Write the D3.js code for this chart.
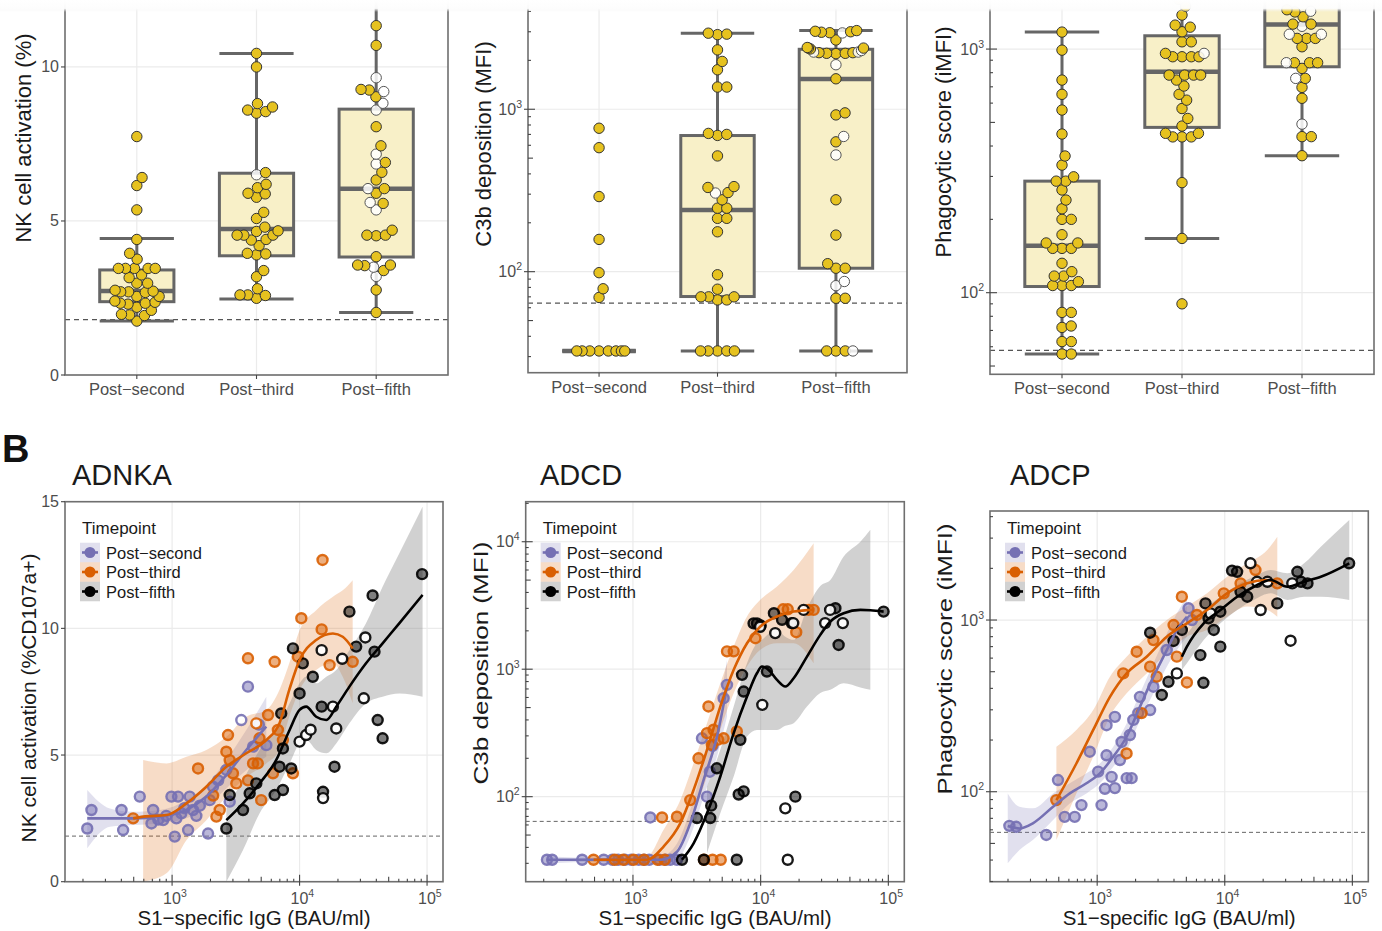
<!DOCTYPE html>
<html>
<head>
<meta charset="utf-8">
<script src="https://cdn.jsdelivr.net/npm/d3@7"></script>
<style>
  body { margin: 0; background: #fff; }
</style>
</head>
<body>
<script>
// ---------- data: panel A (box + swarm) ----------
const timepoints = ["Post\u2212second", "Post\u2212third", "Post\u2212fifth"];

const nkSecond = [7.74, 6.41, 6.15, 5.36, 4.40, 3.95, 3.76, 3.46, 3.46, 3.46, 3.46, 3.46, 3.25, 3.16, 2.98, 2.98, 2.75, 2.72, 2.7, 2.7, 2.68, 2.55, 2.55, 2.4, 2.36, 2.33, 2.33, 2.3, 2.2, 2.1, 1.97, 1.95, 1.93, 1.75];
const nkSecondOpen = [];
const nkThird = [10.44, 10.0, 8.81, 8.7, 8.55, 8.5, 8.6, 6.57, 6.19, 6.08, 5.9, 5.88, 5.77, 5.28, 5.08, 4.8, 4.68, 4.66, 4.54, 4.54, 4.54, 4.4, 4.38, 4.2, 3.95, 3.93, 3.9, 3.39, 3.19, 2.8, 2.6, 2.58, 2.6, 2.49];
const nkThirdOpen = [6.5];
const nkFifth = [12.6, 11.34, 10.7, 9.27, 9.25, 9.03, 8.06, 7.44, 6.9, 6.58, 6.33, 6.05, 5.9, 5.57, 4.7, 4.54, 4.52, 4.54, 3.84, 3.57, 3.57, 3.55, 3.39, 2.76, 2.03];
const nkFifthOpen = [9.65, 9.2, 8.82, 8.6, 7.17, 6.85, 6.05, 5.6, 5.36, 3.5, 3.2];
// [lower whisker, Q1, median, Q3, upper whisker]
const nkBox = [[1.75, 2.38, 2.73, 3.41, 4.43], [2.47, 3.87, 4.74, 6.55, 10.44], [2.03, 3.83, 6.05, 8.63, 12.6]];

const c3bSecond = [764, 580, 290, 158, 98.6, 78.5, 69.4, 32.5, 32.5, 32.5, 32.5, 32.5, 32.5, 32.5, 32.5];
const c3bSecondOpen = [];
const c3bThird = [2940, 2900, 2880, 2320, 1970, 1750, 1370, 1370, 710, 690, 700, 516, 334, 330, 307, 277, 246, 246, 213, 213, 176, 95.7, 78, 70, 70, 70, 67, 67, 32.5, 32.5, 32.5, 32.5, 32.5];
const c3bThirdOpen = [305];
const c3bFifth = [3050, 3000, 2980, 2960, 3020, 2670, 2380, 2400, 2350, 2380, 2210, 2230, 2200, 2230, 2210, 1540, 923, 950, 630, 277, 168, 112, 105, 105, 68.6, 68.6, 32.5, 32.5, 32.5];
const c3bFifthOpen = [2950, 2300, 2250, 2250, 1880, 680, 523, 87, 82, 32.5];
const c3bBox = [[32.5, 32.5, 32.5, 32.5, 32.5], [32.5, 70.3, 240, 689, 2940], [32.5, 105, 1538, 2340, 3050]];

const phagoSecond = [1174, 990, 746, 652, 562, 448, 364, 334, 299, 287, 287, 264, 240, 221, 200, 200, 173, 160, 160, 152, 152, 152, 132, 122, 117, 117, 111, 107, 107, 107, 83, 83, 73, 72, 63, 63, 56, 56];
const phagoSecondOpen = [];
const phagoThird = [2600, 1600, 1500, 1379, 1254, 1230, 1178, 1071, 1071, 960, 930, 930, 930, 930, 782, 782, 782, 782, 746, 705, 652, 617, 570, 519, 483, 451, 451, 436, 436, 436, 283, 167, 90];
const phagoThirdOpen = [960];
const phagoFifth = [2600, 1700, 1450, 1420, 1357, 1266, 1266, 1106, 1106, 1106, 1022, 879, 879, 879, 833, 758, 696, 628, 437, 437, 365];
const phagoFifthOpen = [1430, 1240, 1150, 1150, 879, 758, 492];
const phagoBox = [[56, 106, 156, 287, 1174], [167, 477, 807, 1134, 2600], [365, 846, 1262, 1700, 2600]];

// ---------- data: panel B (IgG vs function) ----------
// points: [IgG (BAU/ml), response]
const adnkaSecond = [[216,2.1],[233,2.83],[401,2.83],[413,2.04],[558,3.36],[689,2.3],[710,2.83],[780,2.45],[850,2.43],[900,2.6],[988,3.36],[1049,1.78],[1080,2.5],[1114,3.36],[1183,2.7],[1250,2.9],[1335,2.04],[1375,3.36],[1460,2.83],[1550,2.6],[1650,3.0],[1915,1.9],[1973,3.22],[2094,3.75],[2300,4.0],[2664,4.41],[2830,3.16],[3937,7.7],[4316,5.33],[4800,6.2],[5484,5.39]];
const adnkaSecondOpen = [[3490,6.38]];
const adnkaThird = [[495,2.5],[1598,4.47],[2100,3.4],[2225,2.57],[2364,2.83],[2664,5.13],[2746,5.79],[2830,4.8],[3002,4.28],[3190,3.88],[3937,8.82],[3937,4.0],[4316,4.67],[4700,4.67],[4850,5.66],[5000,3.22],[5660,6.58],[6187,4.28],[6375,8.68],[6760,5.99],[7400,5.59],[8870,4.28],[9700,8.88],[10320,10.4],[14900,9.96],[15140,12.7],[17200,8.55],[26100,8.68]];
const adnkaThirdOpen = [[4577,6.25]];
const adnkaFifth = [[2664,2.1],[2830,3.42],[3600,2.83],[4060,3.49],[4577,3.88],[6375,3.42],[7400,3.62],[6960,4.54],[7400,5.26],[7180,6.64],[8600,4.47],[8870,9.21],[10000,7.43],[10600,8.62],[12700,8.09],[14900,6.91],[15280,3.55],[18790,4.54],[24600,10.66],[27800,9.28],[37400,11.3],[38700,9.08],[41000,6.38],[44800,5.66],[91400,12.14]];
const adnkaFifthOpen = [[10000,5.53],[11260,5.79],[12200,6.0],[14900,9.14],[15280,3.3],[18250,6.91],[19400,6.05],[21600,8.8],[32800,9.64],[31900,7.24]];

const adcdSecond = [[212,32],[233,32],[400,32],[590,32],[690,32],[765,32],[865,32],[970,32],[1110,32],[1220,32],[1340,32],[1610,32],[1800,32],[1960,32],[2210,32],[1367,68.7],[3800,100],[4000,157],[3470,287],[4200,250],[5130,592],[5450,754]];
const adcdSecondOpen = [];
const adcdThird = [[491,32],[720,32],[840,32],[1010,32],[1220,32],[1560,32],[1770,32],[3600,32],[4200,32],[4870,32],[1690,68.7],[2210,69.6],[2810,94],[3260,200],[3800,315],[3900,510],[4150,255],[4280,335],[4650,280],[5130,287],[5450,1380],[6150,1380],[6510,325],[9100,1750],[15000,2950],[16300,2950],[19000,1950],[23700,2920],[26000,2920]];
const adcdThirdOpen = [];
const adcdFifth = [[2420,32],[3590,32],[6500,32],[3170,68],[4030,68],[4100,85],[4540,167],[6730,104],[7360,110],[6930,279],[7360,668],[7150,903],[8800,2290],[9360,2290],[10000,2200],[11200,959],[12700,2750],[14700,2440],[18700,100],[17500,2300],[38500,3010],[40800,1550],[91800,2830]];
const adcdFifthOpen = [[16300,32],[10300,525],[9900,2150],[13000,1920],[15600,81],[18000,2300],[21700,2920],[32000,2300],[35000,2920],[44000,2300]];

const adcpSecond = [[205,63.3],[232,62.5],[399,56],[493,117],[556,71.4],[667,71.4],[753,83.6],[875,171],[1018,131],[1082,83.6],[1150,104],[1184,163],[1297,122],[1377,105],[1508,153],[1704,120],[1863,120],[1184,244],[1377,273],[1554,195],[1807,214],[1920,262],[2101,287],[2600,299],[2165,357],[2760,409],[3510,669],[5200,1170],[5530,1000]];
const adcpSecondOpen = [];
const adcpThird = [[478,89.4],[1600,489],[1700,167],[2040,654],[2230,287],[2600,535],[2760,764],[2930,468],[3970,935],[4210,612],[4610,1367],[5050,433],[6050,1070],[9820,1430],[13300,1635],[17400,1955],[25800,1635]];
const adcpThirdOpen = [];
const adcpFifth = [[2600,844],[3210,366],[3620,437],[3970,755],[4610,875],[6440,625],[6800,431],[7060,1250],[7460,1023],[8200,875],[9230,700],[9230,1118],[11400,1940],[12500,1910],[13300,1460],[15000,1367],[25800,1250],[37100,1910],[39600,1670],[44500,1635],[94400,2140]];
const adcpFifthOpen = [[4210,489],[7730,1093],[15900,2140],[17900,1670],[19100,1144],[21600,1670],[32800,758],[33800,1635]];

// smooth fits: [IgG, fit, lower CI, upper CI]
const adnkaSecondFit = [[216,2.5,1.32,3.62],[325,2.5,2.17,2.89],[495,2.5,2.24,2.76],[800,2.57,2.3,2.83],[1295,2.83,2.5,3.22],[1857,3.36,2.96,3.82],[2664,4.21,3.68,4.8],[3820,5.2,4.4,5.99],[5484,6.12,4.93,7.3]];
const adnkaThirdFit = [[495,2.5,null,null],[593,2.57,0,4.8],[903,2.63,0.33,4.67],[1295,3.09,1.64,4.93],[1857,3.75,2.43,5.2],[2664,4.54,3.36,5.72],[3820,5.07,4.14,6.51],[5484,5.59,4.67,6.78],[6950,6.25,5.2,7.57],[8300,7.57,6.51,8.62],[10000,8.75,7.57,9.93],[13500,9.54,8.36,10.72],[18250,9.8,8.62,11.25],[21800,9.67,8.09,11.5],[26100,9.21,7.04,11.9]];
const adnkaFifthFit = [[2664,2.43,0,2.89],[3600,3.09,1.25,4.01],[4860,3.88,2.7,5.2],[6550,4.8,3.62,5.99],[8350,5.99,4.67,7.04],[10000,6.78,5.46,7.83],[11260,6.91,5.59,8.09],[13500,6.51,5.2,7.83],[16200,6.38,5.07,8.09],[19400,6.91,5.46,8.36],[24600,7.7,6.25,9.14],[33200,8.62,7.04,10.2],[44800,9.41,7.3,11.64],[60500,10.2,7.43,12.96],[92200,11.32,7.3,14.8]];

const adcdSecondFit = [[212,32,30,34],[664,32,31,33],[1637,32,30,34],[2213,37,32,43],[2812,62,49,79],[3581,136,100,183],[4550,296,207,425],[5450,731,425,1183]];
const adcdThirdFit = [[492,32,31,33],[1288,32,30,34],[1738,40.6,30,55],[2350,62,43,94],[2985,113,74,183],[3800,233,144,377],[4830,509,334,776],[6150,988,649,1506],[7820,1599,1050,2588],[9940,2161,1419,3500],[13430,2588,1599,4450],[18130,2831,1599,6010],[26000,2918,1114,9730]];
const adcdFifthFit = [[2420,32,null,null],[2985,43,null,null],[3800,74,36,120],[4830,144,74,233],[6150,315,144,509],[7820,611,296,1114],[9350,930,334,1599],[10240,1050,334,1700],[11550,988,334,1900],[13430,824,334,2033],[15600,731,360,1800],[18130,849,377,1700],[23060,1256,509,3000],[29320,1859,650,4500],[35130,2366,689,5020],[44690,2748,776,7650],[60390,2918,720,10000],[72270,2900,689,12390],[91870,2831,null,null]];

const adcpSecondFit = [[199,63.1,38.3,97.8],[246,61.1,45.7,81.8],[313,65.5,52.3,80],[451,81.8,68.4,97.8],[610,97.8,85.5,112],[824,112,97.8,128],[1050,128,112,146],[1337,160,140,183],[1702,209,175,250],[2166,313,261,374],[2761,468,374,560],[3515,669,535,836],[4215,874,669,1094],[5050,1045,800,1367]];
const adcpThirdFit = [[479,89.3,52.3,183],[687,146,97.8,229],[931,229,160,299],[1259,357,274,468],[1702,489,374,611],[2443,611,489,800],[3515,800,640,1000],[5050,957,800,1197],[7260,1144,874,1430],[10430,1430,1045,1786],[14990,1637,1197,2138],[21530,1711,1144,2560],[25820,1637,1045,3055]];
const adcpFifthFit = [[4613,611,512,800],[5050,700,560,836],[6840,957,764,1144],[9250,1144,957,1367],[12510,1367,1144,1600],[16910,1563,1309,1786],[22890,1711,1430,1955],[30970,1563,1309,1871],[41880,1672,1367,2138],[56620,1786,1367,2673],[94600,2138,1309,3828]];

// ---------- setup ----------
const W = 1382, H = 931;
const font = "'Liberation Sans', Arial, Helvetica, sans-serif";
const seriesColors = ["#7570B3", "#D95F02", "#000000"];
const gridColor = "#ebebeb", borderColor = "#6f6f6f", tickColor = "#444", labelColor = "#4d4d4d";

const svg = d3.select("body").append("svg")
    .attr("width", W).attr("height", H)
    .style("font-family", font);
const defs = svg.append("defs");

function logTickData(lo, hi) {
    const out = [];
    for (let e = Math.floor(Math.log10(lo)); e <= Math.ceil(Math.log10(hi)); e++) {
        for (let k = 1; k < 10; k++) {
            const v = k * Math.pow(10, e);
            if (v >= lo && v <= hi) out.push({v: v, len: k === 1 ? 7 : (k === 5 ? 5 : 3), major: k === 1});
        }
    }
    return out;
}

function powerLabel(sel, v) {
    sel.append("tspan").text("10");
    sel.append("tspan").attr("font-size", 10.5).attr("dy", -7).text(Math.round(Math.log10(v)));
}

// log ticks along the left axis (inside) with outer tick on decades
function yLogAxis(g, y, left, lo, hi) {
    const t = logTickData(lo, hi);
    g.selectAll(null).data(t).enter().append("line")
        .attr("x1", d => d.major ? left - 4 : left)
        .attr("x2", d => left + d.len)
        .attr("y1", d => y(d.v)).attr("y2", d => y(d.v))
        .attr("stroke", tickColor).attr("stroke-width", 1.1);
    g.selectAll(null).data(t.filter(d => d.major)).enter().append("text")
        .attr("x", left - 6).attr("y", d => y(d.v) + 5.5)
        .attr("text-anchor", "end").attr("font-size", 16).attr("fill", labelColor)
        .each(function(d) { powerLabel(d3.select(this), d.v); });
}

// beeswarm offsets: each point as near the centre as possible without overlap,
// then softly squeezed so wide rows stay inside the box
function swarm(vals, open, y, dist, limit) {
    const pts = vals.map(v => ({v: v, open: false})).concat(open.map(v => ({v: v, open: true})));
    pts.forEach(p => { p.py = y(p.v); });
    pts.sort((a, b) => b.py - a.py);
    const placed = [];
    pts.forEach(p => {
        const cands = [0];
        placed.forEach(q => {
            const dy = Math.abs(q.py - p.py);
            if (dy < dist) {
                const w = Math.sqrt(dist * dist - dy * dy);
                cands.push(q.dx + w, q.dx - w);
            }
        });
        cands.sort((a, b) => Math.abs(a) - Math.abs(b));
        let ok = cands.find(c => placed.every(q => (q.dx - c) ** 2 + (q.py - p.py) ** 2 >= dist * dist - 0.01));
        if (ok === undefined) ok = 0;
        p.dx = ok;
        placed.push(p);
    });
    pts.forEach(p => { p.dx = limit * Math.tanh(p.dx / limit); });
    return pts;
}

// ---------- panel A ----------
const boxPanels = [
    {left: 65, right: 448, bottom: 375, log: false, domain: [0, 12.66], dashed: 1.8,
     title: "NK cell activation (%)", titleX: 31, titleY: 138,
     sets: [[nkSecond, nkSecondOpen], [nkThird, nkThirdOpen], [nkFifth, nkFifthOpen]], box: nkBox},
    {left: 528, right: 907, bottom: 372.7, log: true, domain: [Math.pow(10, 1.378), Math.pow(10, 3.765)], dashed: 64,
     title: "C3b deposition (MFI)", titleX: 491, titleY: 144,
     sets: [[c3bSecond, c3bSecondOpen], [c3bThird, c3bThirdOpen], [c3bFifth, c3bFifthOpen]], box: c3bBox},
    {left: 990, right: 1374, bottom: 374.3, log: true, domain: [Math.pow(10, 1.665), Math.pow(10, 3.263)], dashed: 58,
     title: "Phagocytic score (iMFI)", titleX: 951, titleY: 142,
     sets: [[phagoSecond, phagoSecondOpen], [phagoThird, phagoThirdOpen], [phagoFifth, phagoFifthOpen]], box: phagoBox}
];

boxPanels.forEach((p, i) => {
    const top = -15;
    const g = svg.append("g");
    const x = d3.scalePoint().domain(timepoints).range([p.left, p.right]).padding(0.6);
    const y = (p.log ? d3.scaleLog() : d3.scaleLinear()).domain(p.domain).range([p.bottom, top]);
    const bw = x.step() * 0.62;

    defs.append("clipPath").attr("id", "clipA" + i).append("rect")
        .attr("x", p.left).attr("y", top).attr("width", p.right - p.left).attr("height", p.bottom - top);

    // grid
    const majors = p.log ? [100, 1000] : [0, 5, 10];
    g.selectAll(null).data(timepoints).enter().append("line")
        .attr("x1", d => x(d)).attr("x2", d => x(d)).attr("y1", top).attr("y2", p.bottom)
        .attr("stroke", gridColor).attr("stroke-width", 1.2);
    g.selectAll(null).data(majors).enter().append("line")
        .attr("x1", p.left).attr("x2", p.right).attr("y1", d => y(d)).attr("y2", d => y(d))
        .attr("stroke", gridColor).attr("stroke-width", 1.2);

    const body = g.append("g").attr("clip-path", `url(#clipA${i})`);
    body.append("line")
        .attr("x1", p.left).attr("x2", p.right).attr("y1", y(p.dashed)).attr("y2", y(p.dashed))
        .attr("stroke", "#555").attr("stroke-width", 1.2).attr("stroke-dasharray", "5,4");

    // boxes
    const boxes = body.selectAll(".box").data(p.box).enter().append("g");
    boxes.append("line")
        .attr("x1", (d, j) => x(timepoints[j])).attr("x2", (d, j) => x(timepoints[j]))
        .attr("y1", d => y(d[0])).attr("y2", d => y(d[4]))
        .attr("stroke", "#666").attr("stroke-width", 3);
    [0, 4].forEach(k => {
        boxes.append("line")
            .attr("x1", (d, j) => x(timepoints[j]) - bw / 2).attr("x2", (d, j) => x(timepoints[j]) + bw / 2)
            .attr("y1", d => y(d[k])).attr("y2", d => y(d[k]))
            .attr("stroke", "#666").attr("stroke-width", 3);
    });
    boxes.append("rect")
        .attr("x", (d, j) => x(timepoints[j]) - bw / 2).attr("width", bw)
        .attr("y", d => y(d[3])).attr("height", d => y(d[1]) - y(d[3]))
        .attr("fill", "#f8f0c8").attr("stroke", "#666").attr("stroke-width", 3);
    boxes.append("line")
        .attr("x1", (d, j) => x(timepoints[j]) - bw / 2).attr("x2", (d, j) => x(timepoints[j]) + bw / 2)
        .attr("y1", d => y(d[2])).attr("y2", d => y(d[2]))
        .attr("stroke", "#666").attr("stroke-width", 4.5);

    // swarm points
    p.sets.forEach((s, j) => {
        const pts = swarm(s[0], s[1], y, 9.6, 30);
        body.selectAll(null).data(pts).enter().append("circle")
            .attr("cx", d => x(timepoints[j]) + d.dx).attr("cy", d => d.py).attr("r", 5.2)
            .attr("fill", d => d.open ? "#ffffff" : "#e6c21f")
            .attr("fill-opacity", d => d.open ? 0.85 : 1)
            .attr("stroke", d => d.open ? "#555" : "#333").attr("stroke-width", 1);
    });

    // border and axes
    g.append("rect").attr("x", p.left).attr("y", top).attr("width", p.right - p.left).attr("height", p.bottom - top)
        .attr("fill", "none").attr("stroke", borderColor).attr("stroke-width", 1.6);
    g.selectAll(null).data(timepoints).enter().append("line")
        .attr("x1", d => x(d)).attr("x2", d => x(d)).attr("y1", p.bottom).attr("y2", p.bottom + 4)
        .attr("stroke", tickColor).attr("stroke-width", 1.1);
    g.selectAll(null).data(timepoints).enter().append("text")
        .attr("x", d => x(d)).attr("y", p.bottom + 20)
        .attr("text-anchor", "middle").attr("font-size", 16.5).attr("fill", labelColor)
        .text(d => d);
    if (p.log) {
        yLogAxis(g, y, p.left, p.domain[0], y.invert(0));
    } else {
        g.selectAll(null).data(majors).enter().append("line")
            .attr("x1", p.left - 4).attr("x2", p.left).attr("y1", d => y(d)).attr("y2", d => y(d))
            .attr("stroke", tickColor).attr("stroke-width", 1.1);
        g.selectAll(null).data(majors).enter().append("text")
            .attr("x", p.left - 6).attr("y", d => y(d) + 5.5)
            .attr("text-anchor", "end").attr("font-size", 16).attr("fill", labelColor)
            .text(d => d);
    }
    g.append("text")
        .attr("transform", `translate(${p.titleX},${p.titleY}) rotate(-90)`)
        .attr("text-anchor", "middle").attr("font-size", 22).attr("fill", "#1a1a1a")
        .text(p.title);
});

// ---------- panel B ----------
const scatterPanels = [
    {left: 65, right: 443, top: 501.7, bottom: 881.7, log: false, yDomain: [0, 15], yTicks: [0, 5, 10, 15],
     dashed: 1.8, name: "ADNKA", nameX: 72, yTitle: "NK cell activation (%CD107a+)", titleX: 36, titleY: 698, titleLen: null,
     series: [[adnkaSecond, adnkaSecondOpen, adnkaSecondFit], [adnkaThird, adnkaThirdOpen, adnkaThirdFit], [adnkaFifth, adnkaFifthOpen, adnkaFifthFit]]},
    {left: 525.7, right: 904.3, top: 501.7, bottom: 881.7, log: true, yDomain: [Math.pow(10, 1.333), Math.pow(10, 4.314)],
     dashed: 64, name: "ADCD", nameX: 540, yTitle: "C3b deposition (MFI)", titleX: 488, titleY: 663, titleLen: 243,
     series: [[adcdSecond, adcdSecondOpen, adcdSecondFit], [adcdThird, adcdThirdOpen, adcdThirdFit], [adcdFifth, adcdFifthOpen, adcdFifthFit]]},
    {left: 990, right: 1368.3, top: 511, bottom: 881.7, log: true, yDomain: [Math.pow(10, 1.476), Math.pow(10, 3.635)],
     dashed: 58, name: "ADCP", nameX: 1010, yTitle: "Phagocytic score (iMFI)", titleX: 952, titleY: 659, titleLen: 271,
     series: [[adcpSecond, adcpSecondOpen, adcpSecondFit], [adcpThird, adcpThirdOpen, adcpThirdFit], [adcpFifth, adcpFifthOpen, adcpFifthFit]]}
];

scatterPanels.forEach((p, i) => {
    const g = svg.append("g");
    const x = d3.scaleLog().domain([Math.pow(10, 2.16), Math.pow(10, 5.125)]).range([p.left, p.right]);
    const y = (p.log ? d3.scaleLog() : d3.scaleLinear()).domain(p.yDomain).range([p.bottom, p.top]);
    const xMajors = [1e3, 1e4, 1e5];
    const yMajors = p.log ? logTickData(p.yDomain[0], p.yDomain[1]).filter(d => d.major).map(d => d.v) : p.yTicks;

    defs.append("clipPath").attr("id", "clipB" + i).append("rect")
        .attr("x", p.left).attr("y", p.top).attr("width", p.right - p.left).attr("height", p.bottom - p.top);

    g.selectAll(null).data(xMajors).enter().append("line")
        .attr("x1", d => x(d)).attr("x2", d => x(d)).attr("y1", p.top).attr("y2", p.bottom)
        .attr("stroke", gridColor).attr("stroke-width", 1.2);
    g.selectAll(null).data(yMajors).enter().append("line")
        .attr("x1", p.left).attr("x2", p.right).attr("y1", d => y(d)).attr("y2", d => y(d))
        .attr("stroke", gridColor).attr("stroke-width", 1.2);

    const body = g.append("g").attr("clip-path", `url(#clipB${i})`);
    body.append("line")
        .attr("x1", p.left).attr("x2", p.right).attr("y1", y(p.dashed)).attr("y2", y(p.dashed))
        .attr("stroke", "#666").attr("stroke-width", 1).attr("stroke-dasharray", "4,3");

    const area = d3.area()
        .defined(d => d[2] !== null)
        .x(d => x(d[0])).y0(d => y(Math.max(d[2], p.log ? 1 : 0))).y1(d => y(d[3]))
        .curve(d3.curveMonotoneX);
    const line = d3.line().x(d => x(d[0])).y(d => y(d[1])).curve(d3.curveMonotoneX);

    // confidence bands
    p.series.forEach((s, j) => {
        body.append("path").datum(s[2]).attr("d", area)
            .attr("fill", j === 2 ? "#7a7a7a" : seriesColors[j])
            .attr("fill-opacity", j === 2 ? 0.35 : 0.22);
    });
    // points
    p.series.forEach((s, j) => {
        const pts = s[0].map(d => ({d: d, open: false})).concat(s[1].map(d => ({d: d, open: true})));
        body.selectAll(null).data(pts).enter().append("circle")
            .attr("cx", d => x(d.d[0])).attr("cy", d => y(d.d[1])).attr("r", 5)
            .attr("fill", d => d.open ? "#ffffff" : seriesColors[j])
            .attr("fill-opacity", d => d.open ? 0.9 : 0.5)
            .attr("stroke", seriesColors[j]).attr("stroke-opacity", 0.9).attr("stroke-width", 2.4);
    });
    // fitted lines
    p.series.forEach((s, j) => {
        body.append("path").datum(s[2]).attr("d", line)
            .attr("fill", "none").attr("stroke", seriesColors[j]).attr("stroke-width", 2.6);
    });

    // border and axes
    g.append("rect").attr("x", p.left).attr("y", p.top).attr("width", p.right - p.left).attr("height", p.bottom - p.top)
        .attr("fill", "none").attr("stroke", borderColor).attr("stroke-width", 1.6);

    const xt = logTickData(x.domain()[0], x.domain()[1]);
    g.selectAll(null).data(xt).enter().append("line")
        .attr("x1", d => x(d.v)).attr("x2", d => x(d.v))
        .attr("y1", d => p.bottom - d.len).attr("y2", d => d.major ? p.bottom + 4 : p.bottom)
        .attr("stroke", tickColor).attr("stroke-width", 1.1);
    g.selectAll(null).data(xMajors).enter().append("text")
        .attr("x", d => x(d) - 9).attr("y", p.bottom + 22)
        .attr("font-size", 16).attr("fill", labelColor)
        .each(function(d) { powerLabel(d3.select(this), d); });

    if (p.log) {
        yLogAxis(g, y, p.left, p.yDomain[0], p.yDomain[1]);
    } else {
        g.selectAll(null).data(p.yTicks).enter().append("line")
            .attr("x1", p.left - 4).attr("x2", p.left).attr("y1", d => y(d)).attr("y2", d => y(d))
            .attr("stroke", tickColor).attr("stroke-width", 1.1);
        g.selectAll(null).data(p.yTicks).enter().append("text")
            .attr("x", p.left - 6).attr("y", d => y(d) + 5.5)
            .attr("text-anchor", "end").attr("font-size", 16).attr("fill", labelColor)
            .text(d => d);
    }

    g.append("text")
        .attr("x", (p.left + p.right) / 2).attr("y", 925)
        .attr("text-anchor", "middle").attr("font-size", 20.5).attr("fill", "#1a1a1a")
        .text("S1\u2212specific IgG (BAU/ml)");
    const yt = g.append("text")
        .attr("transform", `translate(${p.titleX},${p.titleY}) rotate(-90)`)
        .attr("text-anchor", "middle").attr("font-size", 21).attr("fill", "#1a1a1a")
        .text(p.yTitle);
    if (p.titleLen) yt.attr("textLength", p.titleLen).attr("lengthAdjust", "spacingAndGlyphs");
    g.append("text")
        .attr("x", p.nameX).attr("y", 485)
        .attr("font-size", 29).attr("fill", "#1a1a1a")
        .text(p.name);

    // legend
    const lg = g.append("g").attr("transform", `translate(${p.left + 15},0)`);
    lg.append("text").attr("x", 2).attr("y", 534).attr("font-size", 17).attr("fill", "#1a1a1a").text("Timepoint");
    timepoints.forEach((t, j) => {
        const cy = 552.5 + j * 19.5;
        lg.append("rect").attr("x", 0).attr("y", cy - 9.75).attr("width", 20).attr("height", 19.5)
            .attr("fill", j === 2 ? "#7a7a7a" : seriesColors[j]).attr("fill-opacity", j === 2 ? 0.35 : 0.22);
        lg.append("line").attr("x1", 2).attr("x2", 18).attr("y1", cy).attr("y2", cy)
            .attr("stroke", seriesColors[j]).attr("stroke-width", 2.6);
        lg.append("circle").attr("cx", 10).attr("cy", cy).attr("r", 5.5).attr("fill", seriesColors[j]);
        lg.append("text").attr("x", 26).attr("y", cy + 6).attr("font-size", 16.5).attr("fill", "#1a1a1a").text(t);
    });
});

// panel letter
svg.append("text").attr("x", 2).attr("y", 462)
    .attr("font-size", 38).attr("font-weight", "bold").attr("fill", "#111").text("B");

// faded strip along the top edge
const fade = defs.append("linearGradient").attr("id", "fade").attr("x1", 0).attr("x2", 0).attr("y1", 0).attr("y2", 1);
fade.append("stop").attr("offset", "0%").attr("stop-color", "#fff").attr("stop-opacity", 1);
fade.append("stop").attr("offset", "70%").attr("stop-color", "#fdfdfd").attr("stop-opacity", 0.97);
fade.append("stop").attr("offset", "100%").attr("stop-color", "#f4f4f4").attr("stop-opacity", 0);
svg.append("rect").attr("x", 0).attr("y", 0).attr("width", W).attr("height", 12).attr("fill", "url(#fade)");
</script>
</body>
</html>
